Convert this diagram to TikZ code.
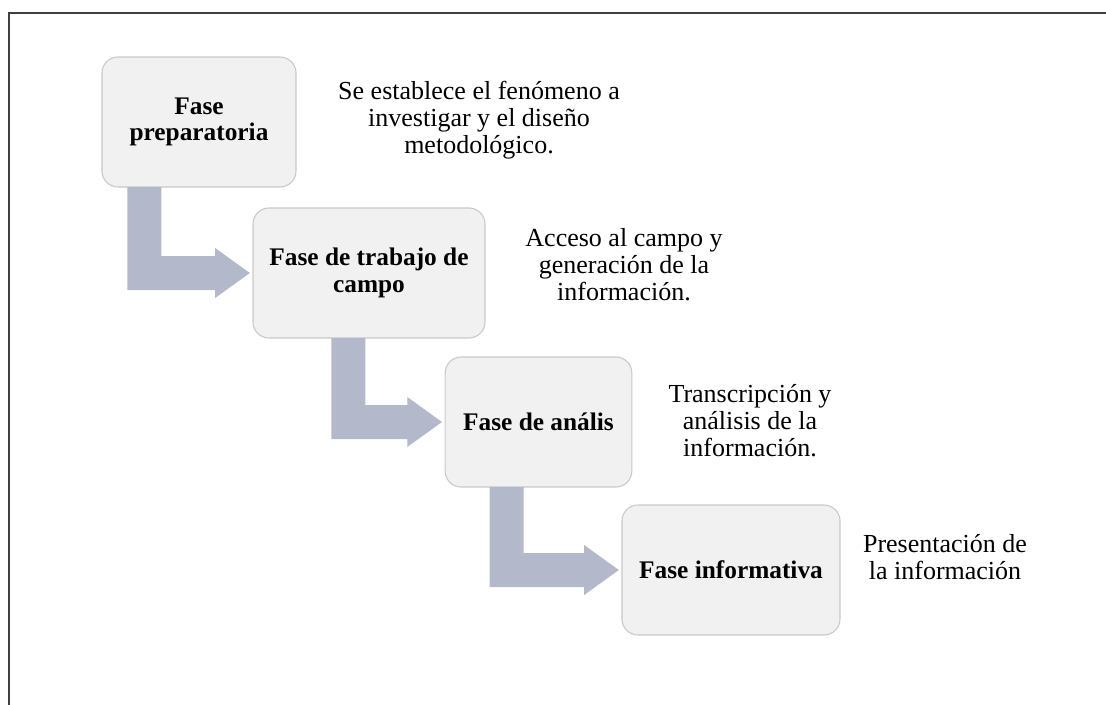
\documentclass[tikz,border=0pt]{standalone}
\usepackage{fontspec}
\setmainfont{Liberation Serif}
\usetikzlibrary{calc}
\definecolor{cajagris}{HTML}{F1F1F1}
\definecolor{bordegris}{HTML}{C9C9C9}
\definecolor{flechagris}{HTML}{B3B8CB}
\definecolor{marco}{HTML}{404040}
% bent block arrow: #1 upper box, #2 lower box, #3 bar offset from west side of #1
\newcommand{\stepArrow}[3]{\fill[flechagris] let \p1=(#1.south west), \p2=(#2.west) in
  ({\x1+#3},{\y1+0.4pt}) -- ({\x1+#3+25.5pt},{\y1+0.4pt}) -- ({\x1+#3+25.5pt},{\y2+12.75pt})
  -- ({\x2-28pt},{\y2+12.75pt}) -- ({\x2-28pt},{\y2+18.75pt}) -- ({\x2-2pt},\y2)
  -- ({\x2-28pt},{\y2-18.75pt}) -- ({\x2-28pt},{\y2-12.75pt}) -- ({\x1+#3},{\y2-12.75pt}) -- cycle;}

\begin{document}
\begin{tikzpicture}[x=0.75pt,y=-0.75pt,
  fase/.style={draw=bordegris,fill=cajagris,line width=0.8pt,rounded corners=12pt,
    minimum height=97.5pt,align=center,font=\fontsize{19}{20}\selectfont\bfseries},
  nota/.style={align=center,font=\fontsize{19.5}{20.25}\selectfont}]
		\useasboundingbox (0,0) rectangle (1106,704);
		%%%%% MARCO %%%%%
		\draw[line width=1.8pt,marco] (1110,13) -- (9,13) -- (9,708);
		
		%%%%% FASES %%%%%
		\node[fase,minimum width=145.5pt] (fase1) at (199,122) {Fase\\preparatoria};
		\node[fase,minimum width=174pt] (fase2) at (369,273) {Fase de trabajo de\\campo};
		\node[fase,minimum width=140pt] (fase3) at (538.5,422) {Fase de anális};
		\node[fase,minimum width=163.5pt] (fase4) at (731,570) {Fase informativa};
		
		%%%%% FLECHAS %%%%%
		\stepArrow{fase1}{fase2}{19.5pt}
		\stepArrow{fase2}{fase3}{59.25pt}
		\stepArrow{fase3}{fase4}{33.75pt}
		
		%%%%% NOTAS %%%%%
		\node[nota] (nota1) at (479,120) {Se establece el fenómeno a\\investigar y el diseño\\metodológico.};
		\node[nota] (nota2) at (624,265) {Acceso al campo y\\generación de la\\información.};
		\node[nota] (nota3) at (750,421) {Transcripción y\\análisis de la\\información.};
		\node[nota] (nota4) at (945,557) {Presentación de\\la información};
	\end{tikzpicture}
\end{document}
